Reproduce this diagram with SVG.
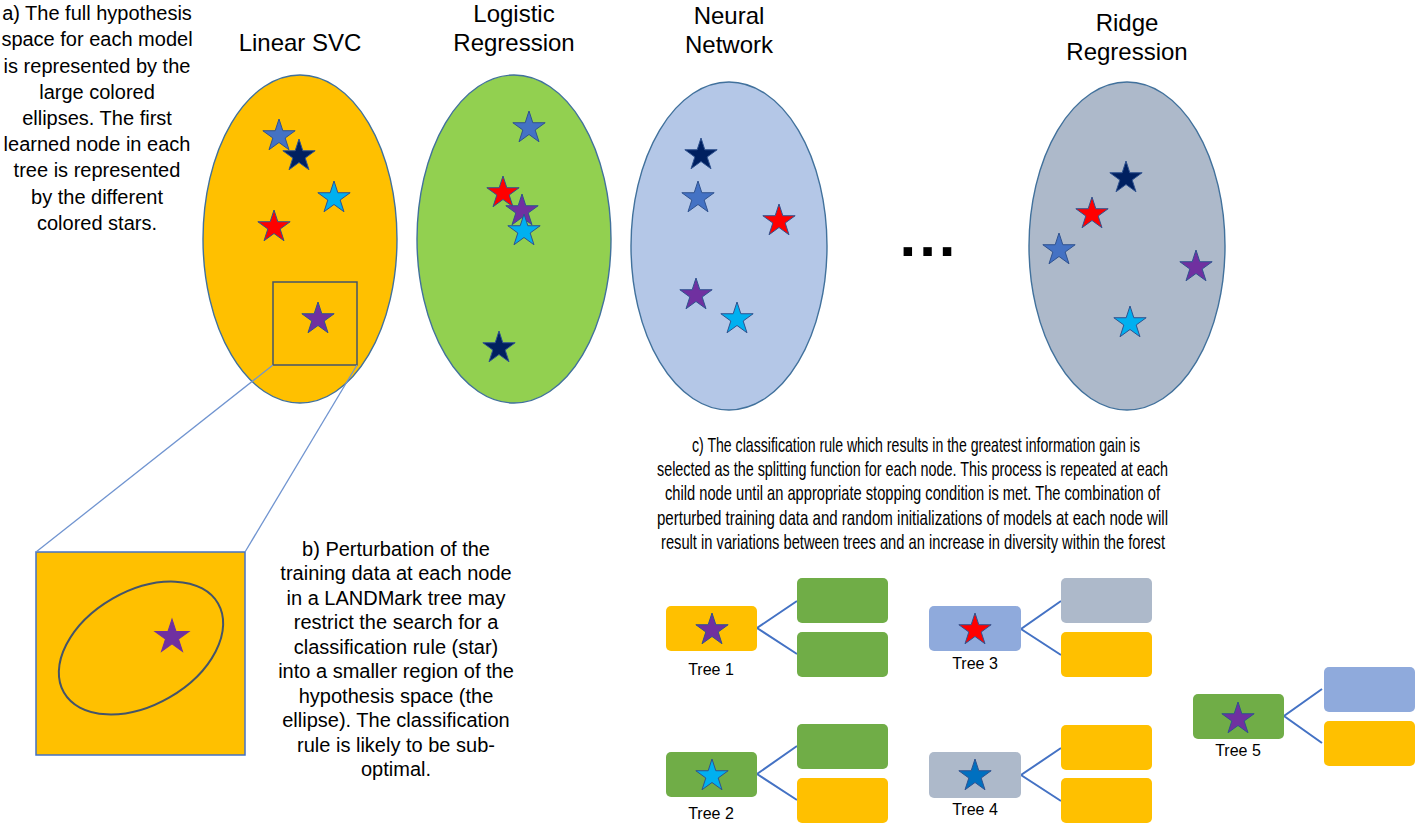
<svg xmlns="http://www.w3.org/2000/svg" xmlns:xlink="http://www.w3.org/1999/xlink" width="1416" height="825" viewBox="0 0 1416 825">
<style>
text{font-family:"Liberation Sans",Arial,sans-serif;fill:#000}
.title{font-size:24px;text-anchor:middle}
.body{font-size:20px;text-anchor:middle}
.cbody{font-size:21px}
.lbl{font-size:16px;text-anchor:middle}
.space{stroke:#41719C;stroke-width:1.4}
.st{stroke:#2F528F;stroke-width:1}
.red{fill:#FF0000}.pur{fill:#7030A0}.lb{fill:#00B0F0}.mb{fill:#4472C4}.nv{fill:#002060}.db{fill:#0070C0}
.yel{fill:#FFC000}.grn{fill:#70AD47}.blu{fill:#8FAADC}.gry{fill:#ADB9CA}
.zl{stroke:#7094D0;stroke-width:1.3;fill:none}
.tl{stroke:#4472C4;stroke-width:2;fill:none}
</style>
<defs>
<path id="star" d="M0,-17 L3.815,-5.251 L16.168,-5.253 L6.173,2.006 L9.992,13.753 L0,6.49 L-9.992,13.753 L-6.173,2.006 L-16.168,-5.253 L-3.815,-5.251 Z"/>
</defs>
<rect width="1416" height="825" fill="#fff"/>

<g id="text-a">
<text class="body" x="97" y="20">a) The full hypothesis</text>
<text class="body" x="97" y="46">space for each model</text>
<text class="body" x="97" y="73">is represented by the</text>
<text class="body" x="97" y="99">large colored</text>
<text class="body" x="97" y="125">ellipses. The first</text>
<text class="body" x="97" y="151">learned node in each</text>
<text class="body" x="97" y="177">tree is represented</text>
<text class="body" x="97" y="204">by the different</text>
<text class="body" x="97" y="230">colored stars.</text>
</g>

<g id="linear-svc">
<text class="title" x="300" y="51">Linear SVC</text>
<ellipse class="space yel" cx="300" cy="239" rx="97" ry="164"/>
<use href="#star" class="st mb" transform="translate(279,136)"/>
<use href="#star" class="st nv" transform="translate(299,156)"/>
<use href="#star" class="st lb" transform="translate(334,198)"/>
<use href="#star" class="st red" transform="translate(274,227)"/>
<rect x="273" y="282" width="84" height="83" fill="none" stroke="#44546A" stroke-width="1.5"/>
<use href="#star" class="st pur" transform="translate(318,319)"/>
</g>

<g id="logistic-regression">
<text class="title" x="514" y="22">Logistic</text>
<text class="title" x="514" y="51">Regression</text>
<ellipse class="space" fill="#92D050" cx="514" cy="239" rx="97" ry="164"/>
<use href="#star" class="st mb" transform="translate(529,128)"/>
<use href="#star" class="st red" transform="translate(503,193)"/>
<use href="#star" class="st pur" transform="translate(522,211)"/>
<use href="#star" class="st lb" transform="translate(524,231)"/>
<use href="#star" class="st nv" transform="translate(499,348)"/>
</g>

<g id="neural-network">
<text class="title" x="729" y="24">Neural</text>
<text class="title" x="729" y="53">Network</text>
<ellipse class="space" fill="#B4C7E7" cx="729" cy="246" rx="98" ry="164"/>
<use href="#star" class="st nv" transform="translate(701,155)"/>
<use href="#star" class="st mb" transform="translate(698,198)"/>
<use href="#star" class="st red" transform="translate(779,221)"/>
<use href="#star" class="st pur" transform="translate(696,295)"/>
<use href="#star" class="st lb" transform="translate(737,319)"/>
</g>

<g id="ellipsis">
<text x="929" y="256" font-size="60" font-weight="bold" text-anchor="middle" letter-spacing="3">...</text>
</g>

<g id="ridge-regression">
<text class="title" x="1127" y="31">Ridge</text>
<text class="title" x="1127" y="60">Regression</text>
<ellipse class="space gry" cx="1127" cy="246" rx="98" ry="164"/>
<use href="#star" class="st nv" transform="translate(1126,178)"/>
<use href="#star" class="st red" transform="translate(1092,214)"/>
<use href="#star" class="st mb" transform="translate(1059,250)"/>
<use href="#star" class="st pur" transform="translate(1196,267)"/>
<use href="#star" class="st lb" transform="translate(1130,323)"/>
</g>

<g id="zoom-view">
<rect x="36" y="552" width="209" height="203" class="yel" stroke="#4472C4" stroke-width="1.5"/>
<ellipse cx="141" cy="648" rx="89" ry="57" transform="rotate(-30 141 648)" fill="none" stroke="#44546A" stroke-width="2"/>
<use href="#star" class="pur" stroke="#7030A0" transform="translate(172,637) scale(1.05)"/>
</g>

<g id="text-b">
<text class="body" x="396" y="556">b) Perturbation of the</text>
<text class="body" x="396" y="580">training data at each node</text>
<text class="body" x="396" y="605">in a LANDMark tree may</text>
<text class="body" x="396" y="629">restrict the search for a</text>
<text class="body" x="396" y="654">classification rule (star)</text>
<text class="body" x="396" y="678">into a smaller region of the</text>
<text class="body" x="396" y="703">hypothesis space (the</text>
<text class="body" x="396" y="727">ellipse). The classification</text>
<text class="body" x="396" y="752">rule is likely to be sub-</text>
<text class="body" x="396" y="776">optimal.</text>
</g>

<g id="text-c">
<text class="cbody" x="692" y="452" textLength="448" lengthAdjust="spacingAndGlyphs">c) The classification rule which results in the greatest information gain is</text>
<text class="cbody" x="657" y="476" textLength="511" lengthAdjust="spacingAndGlyphs">selected as the splitting function for each node. This process is repeated at each</text>
<text class="cbody" x="665" y="500" textLength="495" lengthAdjust="spacingAndGlyphs">child node until an appropriate stopping condition is met. The combination of</text>
<text class="cbody" x="657" y="525" textLength="511" lengthAdjust="spacingAndGlyphs">perturbed training data and random initializations of models at each node will</text>
<text class="cbody" x="661" y="549" textLength="504" lengthAdjust="spacingAndGlyphs">result in variations between trees and an increase in diversity within the forest</text>
</g>

<g id="connectors">
<line class="zl" x1="273" y1="365" x2="36" y2="552"/>
<line class="zl" x1="357" y1="365" x2="245" y2="552"/>
<polyline class="tl" points="797,601 757,628 797,654"/>
<polyline class="tl" points="797,746 757,774 797,800"/>
<polyline class="tl" points="1061,601 1021,629 1061,655"/>
<polyline class="tl" points="1061,748 1021,775 1061,801"/>
<polyline class="tl" points="1322,689 1284,716 1322,743"/>
</g>

<g id="tree-1">
<rect x="666" y="606" width="91" height="45" rx="5" class="yel"/>
<use href="#star" class="st pur" transform="translate(712,630)"/>
<text class="lbl" x="711" y="675">Tree 1</text>
<rect x="797" y="578" width="91" height="45" rx="5" class="grn"/>
<rect x="797" y="632" width="91" height="45" rx="5" class="grn"/>
</g>

<g id="tree-2">
<rect x="666" y="752" width="91" height="45" rx="5" class="grn"/>
<use href="#star" class="st lb" transform="translate(712,776)"/>
<text class="lbl" x="711" y="819">Tree 2</text>
<rect x="797" y="724" width="91" height="45" rx="5" class="grn"/>
<rect x="797" y="778" width="91" height="45" rx="5" class="yel"/>
</g>

<g id="tree-3">
<rect x="929" y="606" width="92" height="45" rx="5" class="blu"/>
<use href="#star" class="st red" transform="translate(975,630)"/>
<text class="lbl" x="975" y="669">Tree 3</text>
<rect x="1061" y="578" width="91" height="45" rx="5" class="gry"/>
<rect x="1061" y="632" width="91" height="45" rx="5" class="yel"/>
</g>

<g id="tree-4">
<rect x="929" y="752" width="92" height="46" rx="5" class="gry"/>
<use href="#star" class="st db" transform="translate(975,776)"/>
<text class="lbl" x="975" y="815">Tree 4</text>
<rect x="1061" y="725" width="91" height="45" rx="5" class="yel"/>
<rect x="1061" y="778" width="91" height="45" rx="5" class="yel"/>
</g>

<g id="tree-5">
<rect x="1193" y="694" width="91" height="45" rx="5" class="grn"/>
<use href="#star" class="st pur" transform="translate(1238,719)"/>
<text class="lbl" x="1238" y="756">Tree 5</text>
<rect x="1324" y="667" width="91" height="45" rx="5" class="blu"/>
<rect x="1324" y="721" width="91" height="45" rx="5" class="yel"/>
</g>
</svg>
